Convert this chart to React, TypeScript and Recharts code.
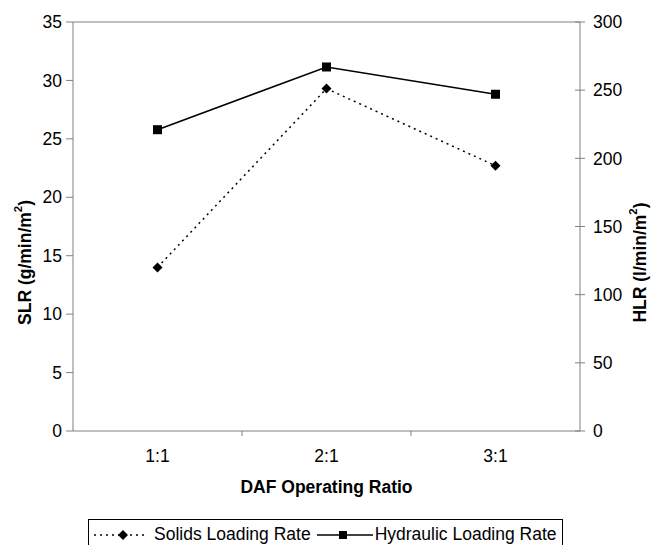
import React from 'react';
import { LineChart, Line, XAxis, YAxis, Legend, ReferenceLine } from 'recharts';

const ratios = ['1:1', '2:1', '3:1'];
const solidsLoading = [14.0, 29.3, 22.7];
const hydraulicLoading = [221, 267, 247];
const slrTicks = [0, 5, 10, 15, 20, 25, 30, 35];
const hlrTicks = [0, 50, 100, 150, 200, 250, 300];

const data = ratios.map((r, i) => ({ ratio: r, slr: solidsLoading[i], hlr: hydraulicLoading[i] }));

const FONT = '"Liberation Sans", Arial, sans-serif';
const FS = 17.5;
const AXIS = '#808080';
const PLOT_W = 507;
const BAND = PLOT_W / ratios.length;

const Diamond = (props: any) => {
  const { cx, cy } = props;
  if (cx == null || cy == null) return null;
  return <polygon points={`${cx},${cy - 5} ${cx + 5},${cy} ${cx},${cy + 5} ${cx - 5},${cy}`} fill="#000" />;
};

const Square = (props: any) => {
  const { cx, cy } = props;
  if (cx == null || cy == null) return null;
  return <rect x={cx - 4.5} y={cy - 4.5} width={9} height={9} fill="#000" />;
};

const XTick = (props: any) => {
  const { x, y, payload, index } = props;
  return (
    <g>
      {index < ratios.length - 1 && (
        <line x1={x + BAND / 2} y1={y} x2={x + BAND / 2} y2={y + 5} stroke={AXIS} />
      )}
      <text x={x} y={y + 31} textAnchor="middle" fontSize={FS} fontFamily={FONT} fill="#000">
        {payload.value}
      </text>
    </g>
  );
};

const RightTick = (props: any) => {
  const { y, payload, x } = props;
  return (
    <g>
      <line x1={x - 5} y1={y} x2={x + 5} y2={y} stroke={AXIS} />
      <text x={x + 13} y={y} dy="0.355em" textAnchor="start" fontSize={FS} fontFamily={FONT} fill="#000">
        {payload.value}
      </text>
    </g>
  );
};

const AxisTitle = ({ x, y, main, sup, tail }: any) => (
  <text
    x={x}
    y={y}
    transform={`rotate(-90, ${x}, ${y})`}
    textAnchor="middle"
    dominantBaseline="central"
    fontSize={FS}
    fontWeight="bold"
    fontFamily={FONT}
    fill="#000"
  >
    {main}
    <tspan fontSize={FS * 0.65} dy={-7}>{sup}</tspan>
    <tspan dy={7}>{tail}</tspan>
  </text>
);

const LegendBox = () => (
  <div
    style={{
      border: '1px solid #000',
      borderBottom: 'none',
      height: 30,
      boxSizing: 'border-box',
      display: 'flex',
      alignItems: 'center',
      fontFamily: FONT,
      fontSize: FS,
      color: '#000',
      paddingLeft: 4,
      whiteSpace: 'nowrap',
    }}
  >
    <svg width={56} height={20} style={{ marginRight: 5 }}>
      <line x1={1} y1={10} x2={55} y2={10} stroke="#000" strokeWidth={1.5} strokeDasharray="2 4" />
      <polygon points="30,5 35,10 30,15 25,10" fill="#000" />
    </svg>
    <span>Solids Loading Rate</span>
    <svg width={56} height={20} style={{ marginLeft: 6, marginRight: 2 }}>
      <line x1={0} y1={10} x2={56} y2={10} stroke="#000" strokeWidth={1.5} />
      <rect x={22} y={6} width={8} height={8} fill="#000" />
    </svg>
    <span>Hydraulic Loading Rate</span>
  </div>
);

export default function App() {
  return (
    <div style={{ position: 'absolute', left: 0, top: 0, background: '#fff' }}>
      <LineChart width={651} height={545} data={data} margin={{ top: 22, right: 0, bottom: 54, left: 0 }}>
        <XAxis
          dataKey="ratio"
          height={60}
          stroke={AXIS}
          padding={{ left: BAND / 2, right: BAND / 2 }}
          tickLine={false}
          tickSize={0}
          tickMargin={0}
          tick={<XTick />}
          interval={0}
          label={(p: any) => {
            const vb = p.viewBox;
            return (
              <text x={vb.x + vb.width / 2} y={vb.y + 62} textAnchor="middle" fontSize={FS} fontWeight="bold" fontFamily={FONT} fill="#000">
                DAF Operating Ratio
              </text>
            );
          }}
        />
        <YAxis
          yAxisId="left"
          width={73}
          domain={[0, 35]}
          ticks={slrTicks}
          interval={0}
          stroke={AXIS}
          tickSize={7}
          tickMargin={4}
          tick={{ fill: '#000', fontSize: FS, fontFamily: FONT }}
          label={(p: any) => {
            const vb = p.viewBox;
            return <AxisTitle x={25} y={vb.y + vb.height / 2 + 36} main="SLR (g/min/m" sup="2" tail=")" />;
          }}
        />
        <YAxis
          yAxisId="right"
          orientation="right"
          width={71}
          domain={[0, 300]}
          ticks={hlrTicks}
          interval={0}
          stroke={AXIS}
          tickLine={false}
          tickSize={0}
          tickMargin={0}
          tick={<RightTick />}
          label={(p: any) => {
            const vb = p.viewBox;
            return <AxisTitle x={640} y={vb.y + vb.height / 2 + 36} main="HLR (l/min/m" sup="2" tail=")" />;
          }}
        />
        <ReferenceLine yAxisId="left" y={35} stroke={AXIS} />
        <Legend
          layout="horizontal"
          verticalAlign="middle"
          align="center"
          content={<LegendBox />}
          wrapperStyle={{ top: 519, left: 88, width: 475, height: 30 }}
        />
        <Line
          yAxisId="left"
          dataKey="slr"
          name="Solids Loading Rate"
          stroke="#000"
          strokeWidth={1.5}
          strokeDasharray="2 4"
          dot={<Diamond />}
          activeDot={false}
          isAnimationActive={false}
        />
        <Line
          yAxisId="right"
          dataKey="hlr"
          name="Hydraulic Loading Rate"
          stroke="#000"
          strokeWidth={1.5}
          dot={<Square />}
          activeDot={false}
          isAnimationActive={false}
        />
      </LineChart>
    </div>
  );
}
